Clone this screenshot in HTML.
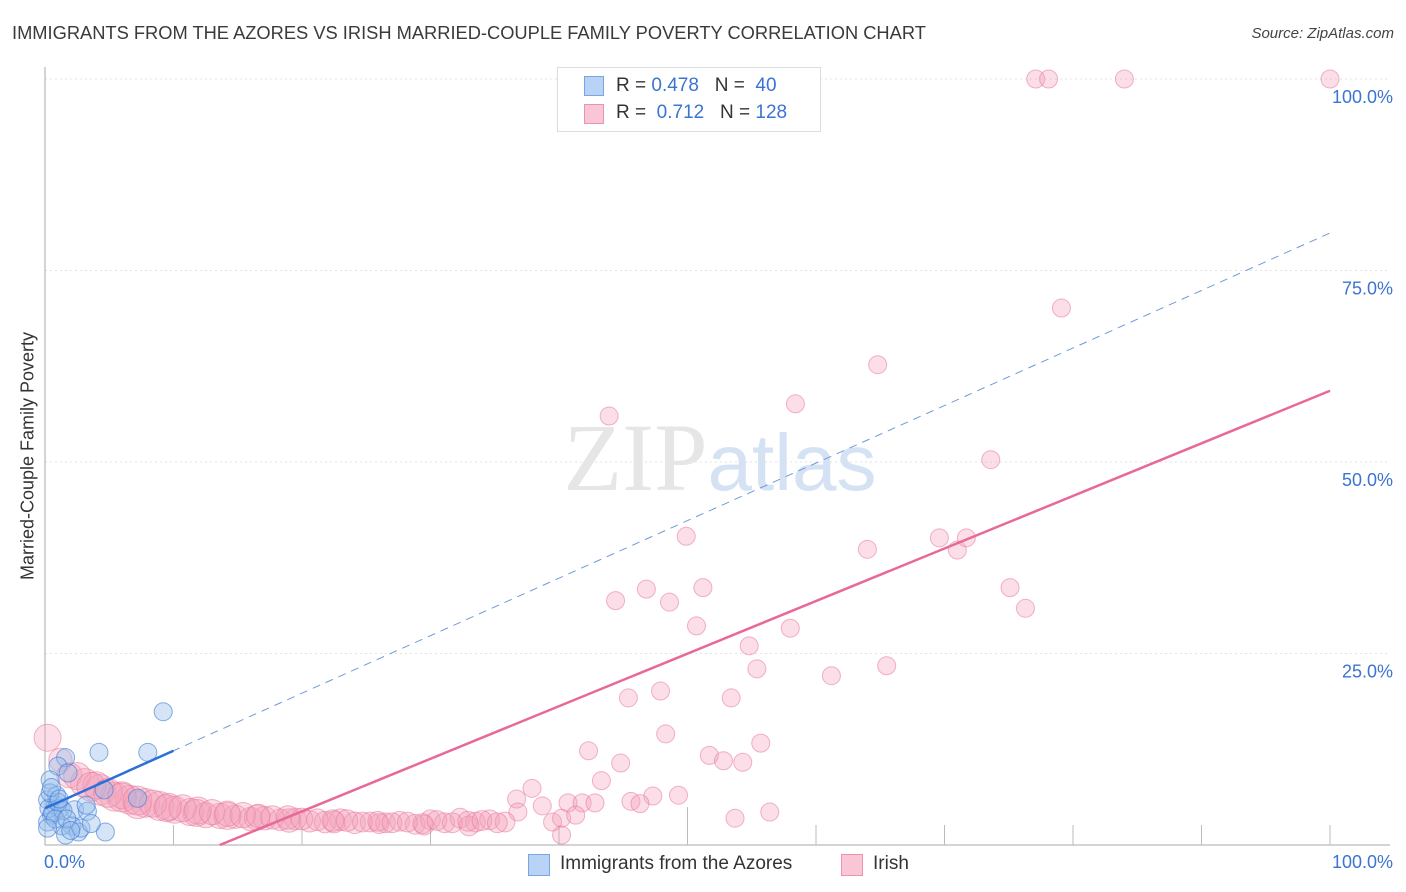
<!DOCTYPE html>
<html><head><meta charset="utf-8">
<style>
body{margin:0;background:#fff;font-family:"Liberation Sans",sans-serif;}
#wrap{position:relative;width:1406px;height:892px;overflow:hidden;}
.t{position:absolute;white-space:nowrap;}
</style></head>
<body>
<div id="wrap">
<div class="t" style="left:12px;top:22px;font-size:18.3px;color:#3a3a3a;">IMMIGRANTS FROM THE AZORES VS IRISH MARRIED-COUPLE FAMILY POVERTY CORRELATION CHART</div>
<div class="t" style="right:12px;top:25px;font-size:15px;color:#444;font-style:italic;">Source: ZipAtlas.com</div>
<svg id="svg" width="1406" height="892" style="position:absolute;left:0;top:0"></svg>
</div>
<script>
const yTicks=[25,50,75,100];
const yTickLabels=["25.0%","50.0%","75.0%","100.0%"];
const xTicks=[0,10,20,30,40,50,60,70,80,90,100];
const irishX=[77.1,78.1,84.0,100,79.1,64.8,58.4,43.9,73.6,49.9,64.0,69.6,71.0,71.7,46.8,44.4,48.6,51.2,75.1,76.3,50.7,58.0,54.8,55.4,61.2,65.5,45.4,47.9,53.4,48.3,42.3,51.7,52.8,54.3,55.7,44.8,37.9,43.3,36.7,38.7,40.7,41.8,42.8,45.6,47.3,46.3,49.3,36.8,39.5,40.2,41.3,53.7,56.4,40.2,
0.2,1.2,1.9,3.1,4.3,5.4,6.6,7.8,8.9,10.1,11.3,12.5,13.6,14.8,16.0,17.1,18.3,19.5,20.6,21.8,23.0,24.1,25.3,26.5,27.6,28.8,30.0,31.1,32.3,33.5,34.6,35.8,
2.5,4.0,6.0,7.2,9.5,11.8,14.2,16.5,19.0,22.5,26.0,29.5,33.0,
3.6,4.9,6.0,7.2,8.4,9.6,10.7,11.9,13.0,14.2,15.4,16.6,17.7,18.9,20.0,21.2,22.4,23.5,24.7,25.9,27.0,28.2,29.4,30.5,31.7,32.9,34.0,35.2];
const irishY=[100,100,100,100,70.1,62.7,57.6,56.0,50.3,40.3,38.6,40.1,38.5,40.1,33.4,31.9,31.7,33.6,33.6,30.9,28.6,28.3,26.0,23.0,22.1,23.4,19.2,20.1,19.2,14.5,12.3,11.7,11.0,10.8,13.3,10.7,7.4,8.4,6.0,5.1,5.5,5.5,5.5,5.7,6.4,5.4,6.5,4.3,3.0,3.5,3.9,3.5,4.3,1.3,
14.0,11.1,9.1,8.1,7.2,6.3,5.9,5.5,5.1,4.6,4.3,3.9,3.8,3.7,3.4,3.5,3.3,3.4,3.1,3.0,3.3,2.9,3.0,2.9,3.1,2.7,3.3,2.9,3.5,3.0,3.3,3.0,
9.0,7.8,6.5,5.2,4.8,4.2,3.8,3.6,3.2,3.0,2.8,2.6,2.5,
7.6,6.8,6.2,5.8,5.4,5.0,4.8,4.5,4.3,4.1,3.9,3.8,3.6,3.6,3.4,3.3,3.2,3.2,3.0,3.1,2.9,3.0,2.8,3.2,2.9,3.1,3.2,2.9];
const irishW=[1,1,1,1,1,1,1,1,1,1,1,1,1,1,1,1,1,1,1,1,1,1,1,1,1,1,1,1,1,1,1,1,1,1,1,1,1,1,1,1,1,1,1,1,1,1,1,1,1,1,1,1,1,1,
1.5,1.3,1.4,1.6,1.7,1.6,1.6,1.6,1.6,1.5,1.5,1.4,1.4,1.3,1.3,1.3,1.2,1.2,1.2,1.2,1.2,1.2,1.1,1.1,1.1,1.1,1.1,1.1,1.1,1.1,1.1,1.1,
1.5,1.5,1.5,1.5,1.5,1.5,1.5,1.4,1.3,1.2,1.1,1.1,1.1,
1.6,1.6,1.6,1.6,1.5,1.5,1.5,1.5,1.4,1.4,1.4,1.3,1.3,1.3,1.2,1.2,1.2,1.2,1.1,1.1,1.1,1.1,1.1,1.1,1.1,1.1,1.1,1.1];
const azX=[9.2,4.2,8.0,1.6,1.0,1.8,4.6,0.4,0.2,0.8,1.2,0.5,2.3,3.3,2.1,2.6,1.3,1.6,4.7,0.2,7.2,3.2,0.9,0.3,0.6,1.0,1.4,0.4,0.8,1.7,2.8,3.6,0.5,1.1,2.0,0.2];
const azY=[17.4,12.1,12.1,11.4,10.3,9.4,7.2,8.5,5.9,5.2,4.8,3.9,4.6,4.4,2.5,1.7,2.5,1.3,1.7,3.0,6.1,5.2,6.5,4.8,4.2,5.6,4.5,6.8,3.4,3.4,2.2,2.8,7.5,6.0,1.9,2.2];
const azTrend=[4.8,79.9];
const irishTrend=[13.6,59.3];
const L=45,R=1330,T=79,B=845;
const sx=v=>L+(R-L)*v/100, sy=v=>B-(B-T)*v/100;
const svg=document.getElementById('svg');const NS='http://www.w3.org/2000/svg';
function mk(tag,at,name){const e=document.createElementNS(NS,tag);for(const k in at)e.setAttribute(k,at[k]);


svg.appendChild(e);return e;}
yTicks.forEach((v,i)=>{mk('line',{x1:L,x2:R+60,y1:sy(v),y2:sy(v),stroke:'#e2e2e2','stroke-dasharray':'2,3'},'y-gridline');
const t=mk('text',{x:1393,y:sy(v)+24,'text-anchor':'end','font-size':18,fill:'#3b74d0','font-family':'Liberation Sans'},'y-tick-label');t.textContent=yTickLabels[i];});
mk('line',{x1:L,x2:L,y1:67,y2:B,stroke:'#aaa'},'y-axis');
mk('line',{x1:L,x2:R+60,y1:B,y2:B,stroke:'#aaa'},'x-axis');
xTicks.forEach(v=>{if(v>0)mk('line',{x1:sx(v),x2:sx(v),y1:B,y2:B-(v==50?38:20),stroke:'#bbb'},'x-tick');});
const w=mk('text',{x:720,y:490,'text-anchor':'middle','font-size':96,fill:'#e6e6e6','font-family':'Liberation Serif'},'watermark');
w.innerHTML='ZIP<tspan fill="#d4e2f4" font-family="Liberation Sans" font-size="80">atlas</tspan>';
mk('line',{x1:sx(9.9),y1:sy(azTrend[0]+(azTrend[1]-azTrend[0])*0.099),x2:sx(100),y2:sy(azTrend[1]),stroke:'#6f9ad8','stroke-width':1,'stroke-dasharray':'8,6'},'azores-trend-dashed');
irishX.forEach((x,i)=>{mk('circle',{cx:sx(x),cy:sy(irishY[i]),r:9*irishW[i],fill:'rgba(244,160,185,0.35)',stroke:'rgba(232,120,155,0.55)','stroke-width':1},'irish-point');});
azX.forEach((x,i)=>{mk('circle',{cx:sx(x),cy:sy(azY[i]),r:9,fill:'rgba(150,190,235,0.4)',stroke:'rgba(60,120,210,0.6)','stroke-width':1},'azores-point');});
mk('line',{x1:sx(0),y1:sy(azTrend[0]),x2:sx(10),y2:sy(azTrend[0]+(azTrend[1]-azTrend[0])*0.1),stroke:'#2d6fd6','stroke-width':2.5},'azores-trend-line');
const xs=irishTrend[0];
mk('line',{x1:sx(xs),y1:sy(0),x2:sx(100),y2:sy(irishTrend[1]),stroke:'#e8689a','stroke-width':2.5},'irish-trend-line');
</script>
<div class="t" style="left:28px;top:456px;transform:translate(-50%,-50%) rotate(-90deg);font-size:18px;color:#333;">Married-Couple Family Poverty</div>
<div class="t" style="left:44px;top:852px;font-size:18px;color:#3b74d0;">0.0%</div>
<div class="t" style="right:13px;top:852px;font-size:18px;color:#3b74d0;">100.0%</div>
<div style="position:absolute;left:557px;top:67px;width:262px;height:63px;border:1px solid #ddd;background:#fff;font-size:19px;color:#333;">
 <div style="position:absolute;left:26px;top:8px;width:18px;height:18px;background:#b8d3f5;border:1px solid #7aa6e0;"></div>
 <div class="t" style="left:58px;top:7px;">R = <span style="color:#3b74d0">0.478</span>&nbsp;&nbsp;&nbsp;N = &nbsp;<span style="color:#3b74d0">40</span></div>
 <div style="position:absolute;left:26px;top:36px;width:18px;height:18px;background:#f9c6d6;border:1px solid #eb92b0;"></div>
 <div class="t" style="left:58px;top:34px;">R = &nbsp;<span style="color:#3b74d0">0.712</span>&nbsp;&nbsp;&nbsp;N = <span style="color:#3b74d0">128</span></div>
</div>
<div style="position:absolute;left:528px;top:853px;font-size:19px;color:#333;">
 <div style="position:absolute;left:0;top:1px;width:20px;height:20px;background:#b8d3f5;border:1px solid #7aa6e0;"></div>
 <div class="t" style="left:32px;top:0;">Immigrants from the Azores</div></div>
<div style="position:absolute;left:841px;top:853px;font-size:19px;color:#333;">
 <div style="position:absolute;left:0;top:1px;width:20px;height:20px;background:#f9c6d6;border:1px solid #eb92b0;"></div>
 <div class="t" style="left:32px;top:0;">Irish</div></div>
</body></html>
